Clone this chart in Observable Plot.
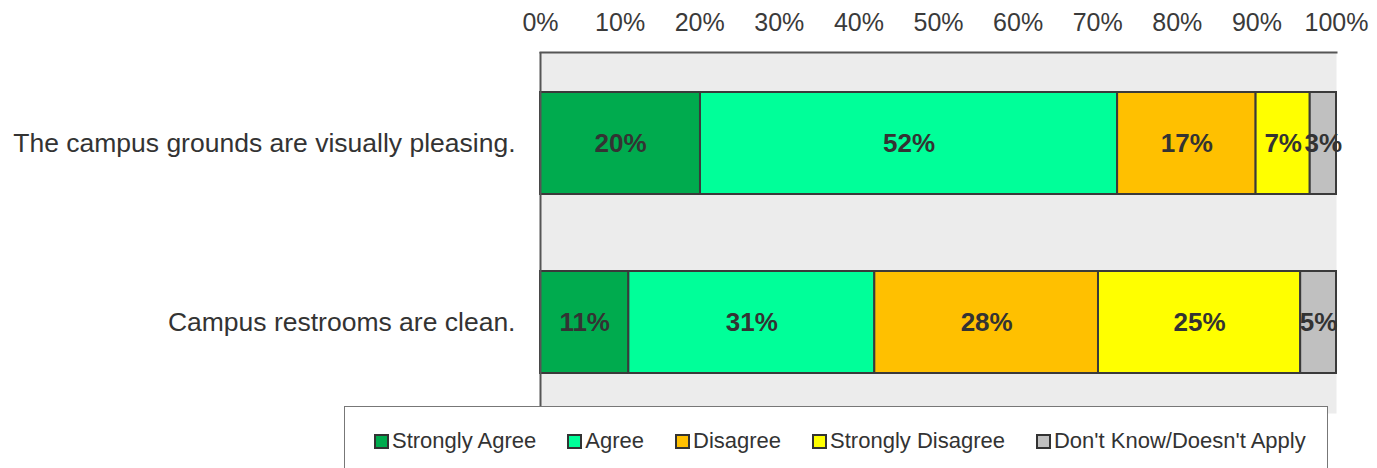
<!DOCTYPE html>
<html>
<head>
<meta charset="utf-8">
<script src="https://cdn.jsdelivr.net/npm/d3@7"></script>
<script src="https://cdn.jsdelivr.net/npm/@observablehq/plot@0.6"></script>
<style>
  html, body { margin: 0; padding: 0; background: #fff; }
  #wrap { position: relative; width: 1377px; height: 468px; overflow: hidden; font-family: "Liberation Sans", Arial, sans-serif; }
  #chart { position: absolute; left: 0; top: 0; }
  #legend { position: absolute; left: 344px; top: 406px; width: 984px; height: 90px; box-sizing: border-box;
            background: #fff; border: 1.5px solid #777; display: flex; align-items: flex-start; padding: 21px 0 0 29px; gap: 31px; }
  .item { display: flex; align-items: center; font-size: 22px; color: #333; white-space: nowrap; }
  .sw { width: 11px; height: 11px; border: 2px solid #333; margin-right: 3px; }
</style>
</head>
<body>
<div id="wrap">
  <div id="chart"></div>
  <div id="legend"></div>
</div>
<script>
const questions = ["The campus grounds are visually pleasing.", "Campus restrooms are clean."];
const responses = ["Strongly Agree", "Agree", "Disagree", "Strongly Disagree", "Don't Know/Doesn't Apply"];
const colors = ["#00AB4E", "#00FF99", "#FFC000", "#FFFF00", "#C0C0C0"];
const groundsValues = [20.1, 52.4, 17.4, 6.8, 3.3];
const restroomsValues = [11.1, 30.9, 28.1, 25.4, 4.5];
const groundsLabels = ["20%", "52%", "17%", "7%", "3%"];
const restroomsLabels = ["11%", "31%", "28%", "25%", "5%"];
const xTicks = [0, 10, 20, 30, 40, 50, 60, 70, 80, 90, 100];

const rows = [];
responses.forEach((r, i) => rows.push({question: questions[0], response: r, value: groundsValues[i], label: groundsLabels[i]}));
responses.forEach((r, i) => rows.push({question: questions[1], response: r, value: restroomsValues[i], label: restroomsLabels[i]}));

const chart = Plot.plot({
  width: 1377,
  height: 468,
  marginLeft: 540,
  marginRight: 41,
  marginTop: 52,
  marginBottom: 55,
  style: {fontFamily: "'Liberation Sans', Arial, sans-serif", background: "transparent", color: "#333"},
  x: {domain: [0, 100], axis: null, label: null},
  y: {domain: questions, axis: null, label: null, paddingInner: 0.428, paddingOuter: 0.217},
  color: {domain: responses, range: colors},
  marks: [
    Plot.frame({fill: "#ececec"}),
    Plot.barX(rows, Plot.stackX({x: "value", y: "question", fill: "response", stroke: "#3a3a3a", strokeWidth: 2})),
    Plot.text(rows, Plot.stackX({x: "value", y: "question", z: "response", text: "label", fontSize: 26, fontWeight: "bold", fill: "#333"})),
    Plot.ruleX([0], {stroke: "#555", strokeWidth: 2}),
    Plot.frame({anchor: "top", stroke: "#555", strokeWidth: 2}),
    Plot.axisX(xTicks, {anchor: "top", label: null, tickSize: 0, tickPadding: 22, fontSize: 25, tickFormat: d => d + "%", fill: "#3a3a3a"}),
    Plot.axisY({anchor: "left", label: null, tickSize: 0, tickPadding: 25, fontSize: 26.5, fill: "#333"})
  ]
});
document.getElementById("chart").appendChild(chart);

const legend = document.getElementById("legend");
responses.forEach((r, i) => {
  const item = document.createElement("div");
  item.className = "item";
  const sw = document.createElement("span");
  sw.className = "sw";
  sw.style.background = colors[i];
  item.appendChild(sw);
  item.appendChild(document.createTextNode(r));
  legend.appendChild(item);
});
</script>
</body>
</html>
